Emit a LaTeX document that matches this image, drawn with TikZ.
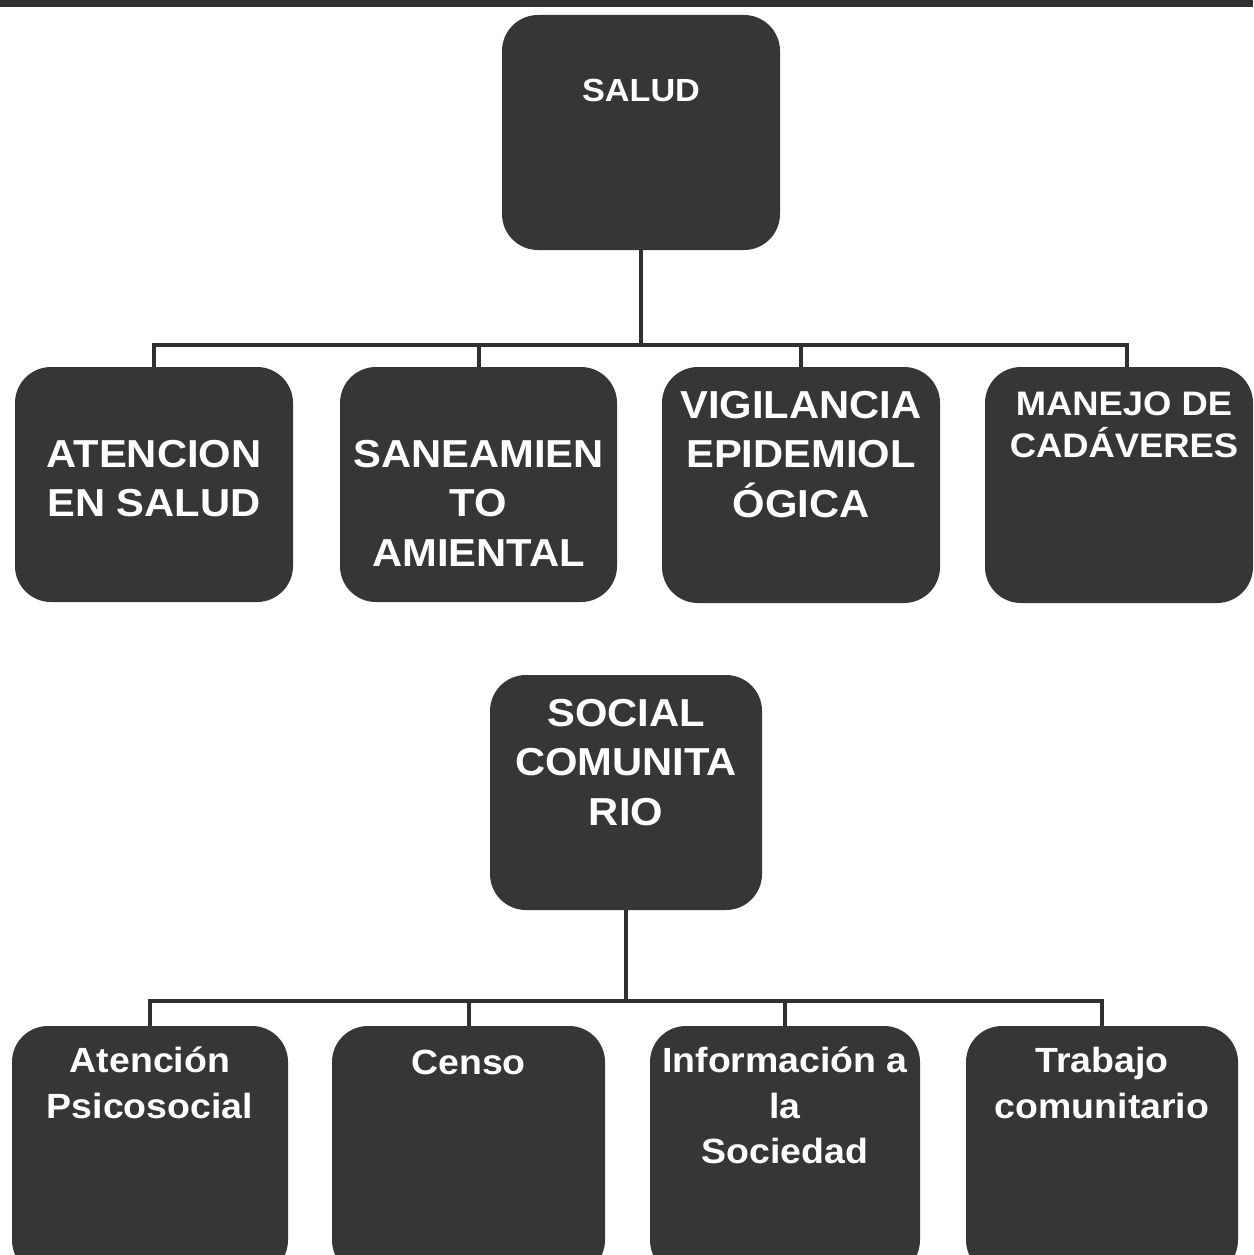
\documentclass[tikz,border=0pt]{standalone}
\usepackage{fontspec}
\setmainfont{Liberation Sans}[FakeStretch=1.07]
\definecolor{boxgray}{HTML}{363636}
\definecolor{linegray}{HTML}{303030}
\newcommand{\tstrut}{\rule{0pt}{40pt}}
\tikzset{
  box/.style={fill=boxgray, draw=none, rounded corners=36pt, inner sep=0pt},
  conn/.style={draw=linegray, line width=4pt},
  txt/.style={text=white, align=center, inner sep=0pt, anchor=north},
  big/.style={font={\bfseries\fontsize{39}{49.5}\selectfont}},
  mid/.style={font={\bfseries\fontsize{34}{42}\selectfont}},
  sml/.style={font={\bfseries\fontsize{35}{45.5}\selectfont}},
  top/.style={font={\bfseries\fontsize{32}{40}\selectfont}}
}
\begin{document}
\begin{tikzpicture}[x=1pt,y=-1pt]
\clip (0,0) rectangle (1253,1255);
\fill[white] (0,0) rectangle (1253,1255);
\fill[linegray] (0,0) rectangle (1253,7);

% level 1
\node[box, minimum width=278pt, minimum height=235pt] (salud) at (641,132.5) {};
% level 2
\node[box, minimum width=278pt, minimum height=235pt] (atn) at (154,484.5) {};
\node[box, minimum width=277pt, minimum height=235pt] (san) at (478.5,484.5) {};
\node[box, minimum width=278pt, minimum height=236pt] (vig) at (801,485) {};
\node[box, minimum width=268pt, minimum height=236pt] (man) at (1119,485) {};
% social
\node[box, minimum width=272pt, minimum height=235pt] (soc) at (626,792.5) {};
% level 3
\node[box, minimum width=276pt, minimum height=250pt] (psi) at (150,1151) {};
\node[box, minimum width=273pt, minimum height=250pt] (cen) at (468.5,1151) {};
\node[box, minimum width=270pt, minimum height=250pt] (inf) at (785,1151) {};
\node[box, minimum width=272pt, minimum height=250pt] (tra) at (1102,1151) {};

% texts
\node[txt, top] (salud-t) at (641,101-40) {\tstrut SALUD};
\node[txt, big] (atn-t) at (154,467-40) {\tstrut ATENCION\\EN SALUD};
\node[txt, big] (san-t) at (478.5,467-40) {\tstrut SANEAMIEN\\TO\\AMIENTAL};
\node[txt, big] (vig-t) at (801,418-40) {\tstrut VIGILANCIA\\EPIDEMIOL\\ÓGICA};
\node[txt, mid] (man-t) at (1124,415-40) {\tstrut MANEJO DE\\CADÁVERES};
\node[txt, big] (soc-t) at (626,726-40) {\tstrut SOCIAL\\COMUNITA\\RIO};
\node[txt, sml] (psi-t) at (150,1072.5-40) {\tstrut Atención\\Psicosocial};
\node[txt, sml] (cen-t) at (468.5,1074-40) {\tstrut Censo};
\node[txt, sml] (inf-t) at (785,1072.5-40) {\tstrut Información a\\la\\Sociedad};
\node[txt, sml] (tra-t) at (1102,1072.5-40) {\tstrut Trabajo\\comunitario};

% connectors salud
\coordinate (busA) at (640,345);
\draw[conn] (salud.south) -- (salud.south |- busA);
\draw[conn, line cap=rect] (atn.north |- busA) -- ([xshift=8pt]man.north |- busA);
\draw[conn] (atn.north |- busA) -- (atn.north);
\draw[conn] (san.north |- busA) -- (san.north);
\draw[conn] (vig.north |- busA) -- (vig.north);
\draw[conn] ([xshift=8pt]man.north |- busA) -- ([xshift=8pt]man.north);

% connectors social
\coordinate (busB) at (626,1001);
\draw[conn] (soc.south) -- (soc.south |- busB);
\draw[conn, line cap=rect] (psi.north |- busB) -- (tra.north |- busB);
\draw[conn] (psi.north |- busB) -- (psi.north);
\draw[conn] (cen.north |- busB) -- (cen.north);
\draw[conn] (inf.north |- busB) -- (inf.north);
\draw[conn] (tra.north |- busB) -- (tra.north);
\end{tikzpicture}
\end{document}
